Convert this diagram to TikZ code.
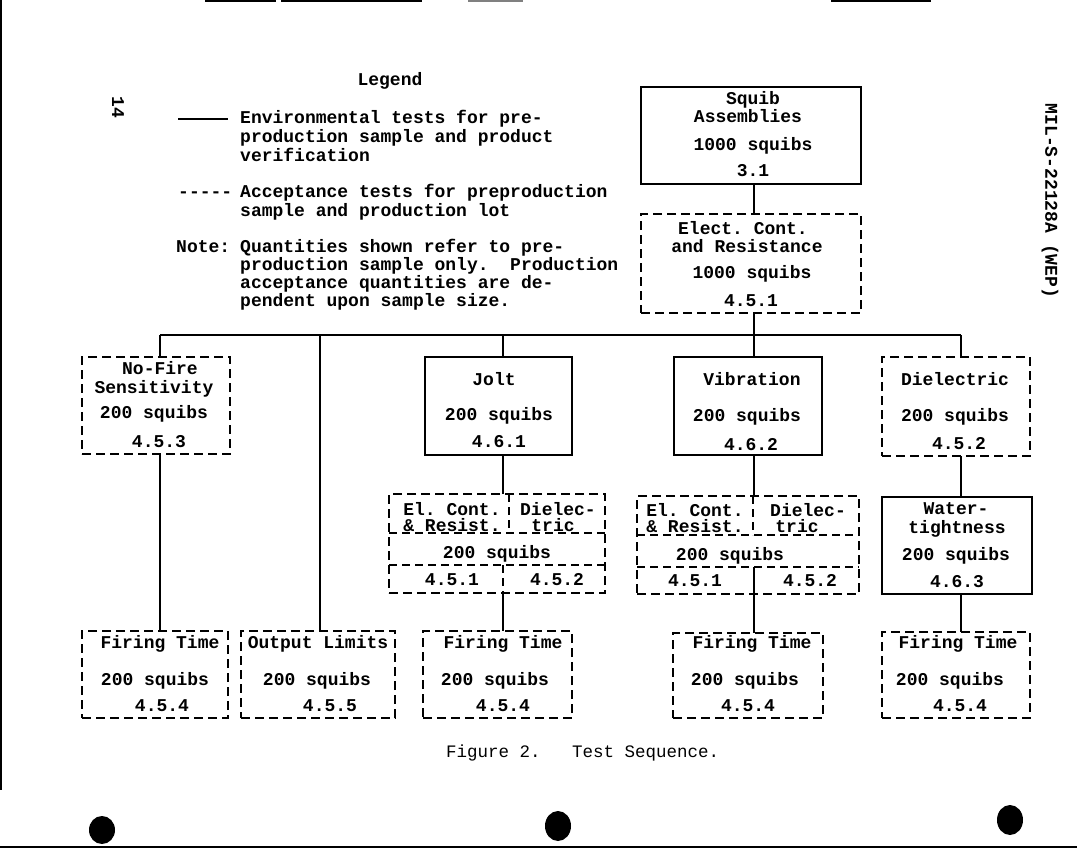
\documentclass[tikz,border=0pt]{standalone}
\usepackage{fontspec}
\setmainfont{Liberation Mono}
\frenchspacing
\newcommand\twfont{\fontsize{18}{19}\selectfont\bfseries}
\newcommand\capfont{\fontsize{17.5}{19}\selectfont}
\begin{document}
\begin{tikzpicture}[x=1pt,y=-1pt,
  bx/.style={draw, line width=1.3pt, inner sep=0pt, outer sep=0pt},
  sbx/.style={bx},
  dbx/.style={bx, dash pattern=on 9pt off 5pt},
  t/.style={inner sep=0pt, anchor=base, font=\twfont},
  tl/.style={t, anchor=base west},
  conn/.style={line width=1.4pt},
  dline/.style={line width=1.2pt, dash pattern=on 8pt off 5pt},
  edge/.style={line width=2pt},
  hole/.style={fill=black}]
\useasboundingbox (0,0) rectangle (1077,849);

% page edges (scan)
\draw[edge] (1,0) -- (1,790);
\draw[edge] (0,847) -- (1077,847);
\draw[line width=1.5pt] (205,1) -- (276,1) (281,1) -- (422,1) (831,1) -- (931,1);
\draw[line width=1.5pt, gray] (468,1) -- (523,1);

% side texts
\node[t, anchor=center, rotate=-90] (pg) at (118,107) {14};
\node[t, anchor=center, rotate=-90] (mil) at (1050,201) {MIL-S-22128A (WEP)};

% legend
\node[t] (lg) at (390,85) {Legend};
\coordinate (ls1) at (178,119);
\coordinate (ls2) at (228,119);
\draw[line width=1.6pt] (ls1) -- (ls2);
\node[tl] (l1a) at (240,123) {Environmental tests for pre-};
\node[tl] (l1b) at (240,142) {production sample and product};
\node[tl] (l1c) at (240,161) {verification};
\node[tl] (l2d) at (178,197) {{-}{-}{-}{-}{-}};
\node[tl] (l2a) at (240,197) {Acceptance tests for preproduction};
\node[tl] (l2b) at (240,216) {sample and production lot};
\node[tl] (n0) at (176,252) {Note:};
\node[tl] (n1) at (240,252) {Quantities shown refer to pre-};
\node[tl] (n2) at (240,270) {production sample only.\ \ Production};
\node[tl] (n3) at (240,288) {acceptance quantities are de-};
\node[tl] (n4) at (240,306) {pendent upon sample size.};

% boxes
\node[sbx, minimum width=220pt, minimum height=97pt] (sq) at (751,135.5) {};
\node[dbx, minimum width=220pt, minimum height=99pt] (ec) at (751,263.5) {};
\node[dbx, minimum width=148pt, minimum height=97pt] (nf) at (156,405.5) {};
\node[sbx, minimum width=147pt, minimum height=98pt] (jolt) at (498.5,406) {};
\node[sbx, minimum width=148pt, minimum height=98pt] (vib) at (748,406) {};
\node[dbx, minimum width=148pt, minimum height=99pt] (diel) at (956,406.5) {};
\node[dbx, minimum width=216pt, minimum height=99pt] (cba) at (497,543.5) {};
\node[dbx, minimum width=222pt, minimum height=98pt] (cbb) at (748,545) {};
\node[sbx, minimum width=150pt, minimum height=97pt] (wt) at (957,545.5) {};
\node[dbx, minimum width=146pt, minimum height=87pt] (fta) at (155,674.5) {};
\node[dbx, minimum width=154pt, minimum height=87pt] (ol) at (318,674.5) {};
\node[dbx, minimum width=149pt, minimum height=87pt] (ftb) at (497.5,674.5) {};
\node[dbx, minimum width=150pt, minimum height=85pt] (ftc) at (748,675.5) {};
\node[dbx, minimum width=148pt, minimum height=86pt] (ftd) at (956,675) {};

% inner lines of the combined boxes
\draw[dline] (509,494) -- (509,533);
\draw[dline] (cba.west |- 0,533) -- (cba.east |- 0,533);
\draw[dline] (cba.west |- 0,565) -- (cba.east |- 0,565);
\draw[dline] (503,565) -- (503,593);
\draw[dline] (753,496) -- (753,535);
\draw[dline] (cbb.west |- 0,535) -- (cbb.east |- 0,535);
\draw[dline] (cbb.west |- 0,567) -- (cbb.east |- 0,567);
\draw[conn] (754,567) -- (754,594);

% texts in boxes
\node[t] (sq1) at (753,104) {Squib};
\node[t] (sq2) at (748,122) {Assemblies};
\node[t] (sq3) at (753,150) {1000 squibs};
\node[t] (sq4) at (753,176) {3.1};
\node[t] (ec1) at (743,234) {Elect. Cont.};
\node[t] (ec2) at (747,252) {and Resistance};
\node[t] (ec3) at (752,278) {1000 squibs};
\node[t] (ec4) at (751,306) {4.5.1};

\node[t] (nf1) at (160,374) {No-Fire};
\node[t] (nf2) at (154,393) {Sensitivity};
\node[t] (nf3) at (154,418) {200 squibs};
\node[t] (nf4) at (159,447) {4.5.3};
\node[t] (jo1) at (494,385) {Jolt};
\node[t] (jo2) at (499,420) {200 squibs};
\node[t] (jo3) at (499,447) {4.6.1};
\node[t] (vi1) at (752,385) {Vibration};
\node[t] (vi2) at (747,421) {200 squibs};
\node[t] (vi3) at (751,450) {4.6.2};
\node[t] (di1) at (955,385) {Dielectric};
\node[t] (di2) at (955,421) {200 squibs};
\node[t] (di3) at (959,449) {4.5.2};

\node[t] (ca1) at (452,515) {El. Cont.};
\node[t] (ca2) at (558,515) {Dielec-};
\node[t] (ca3) at (452,531) {\& Resist.};
\node[t] (ca4) at (553,531) {tric};
\node[t] (ca5) at (497,558) {200 squibs};
\node[t] (ca6) at (452,585) {4.5.1};
\node[t] (ca7) at (557,585) {4.5.2};
\node[t] (cb1) at (695,516) {El. Cont.};
\node[t] (cb2) at (808,516) {Dielec-};
\node[t] (cb3) at (695,532) {\& Resist.};
\node[t] (cb4) at (797,532) {tric};
\node[t] (cb5) at (730,560) {200 squibs};
\node[t] (cb6) at (695,586) {4.5.1};
\node[t] (cb7) at (810,586) {4.5.2};
\node[t] (wt1) at (956,514) {Water-};
\node[t] (wt2) at (957,533) {tightness};
\node[t] (wt3) at (956,560) {200 squibs};
\node[t] (wt4) at (957,587) {4.6.3};

\node[t] (fa1) at (160,648) {Firing Time};
\node[t] (fa2) at (155,685) {200 squibs};
\node[t] (fa3) at (162,711) {4.5.4};
\node[t] (ol1) at (318,648) {Output Limits};
\node[t] (ol2) at (317,685) {200 squibs};
\node[t] (ol3) at (330,711) {4.5.5};
\node[t] (fb1) at (503,648) {Firing Time};
\node[t] (fb2) at (495,685) {200 squibs};
\node[t] (fb3) at (503,711) {4.5.4};
\node[t] (fc1) at (752,648) {Firing Time};
\node[t] (fc2) at (745,685) {200 squibs};
\node[t] (fc3) at (748,711) {4.5.4};
\node[t] (fd1) at (958,648) {Firing Time};
\node[t] (fd2) at (950,685) {200 squibs};
\node[t] (fd3) at (960,711) {4.5.4};

% connectors
\coordinate (cA) at (160,335);
\coordinate (cB) at (320,335);
\coordinate (cC) at (503,335);
\coordinate (cD) at (754,335);
\coordinate (cE) at (961,335);
\draw[conn] (sq.south -| cD) -- (ec.north -| cD);
\draw[conn] (ec.south -| cD) -- (cD);
\draw[conn] (cA) -- (cE);
\draw[conn] (cA) -- (nf.north -| cA);
\draw[conn] (cB) -- (ol.north -| cB);
\draw[conn] (cC) -- (jolt.north -| cC);
\draw[conn] (cD) -- (vib.north -| cD);
\draw[conn] (cE) -- (diel.north -| cE);
\draw[conn] (nf.south -| cA) -- (fta.north -| cA);
\draw[conn] (jolt.south -| cC) -- (cba.north -| cC);
\draw[conn] (cba.south -| cC) -- (ftb.north -| cC);
\draw[conn] (vib.south -| cD) -- (cbb.north -| cD);
\draw[conn] (cbb.south -| cD) -- (ftc.north -| cD);
\draw[conn] (diel.south -| cE) -- (wt.north -| cE);
\draw[conn] (wt.south -| cE) -- (ftd.north -| cE);

% caption
\node[inner sep=0pt, anchor=base west, font=\capfont] (cap) at (446,757) {Figure 2.\ \ \ Test Sequence.};

% punch holes
\fill[hole] (102,830) ellipse [x radius=13, y radius=14];
\fill[hole] (558,826) ellipse [x radius=13, y radius=15];
\fill[hole] (1010,820) ellipse [x radius=13, y radius=15];
\end{tikzpicture}
\end{document}
